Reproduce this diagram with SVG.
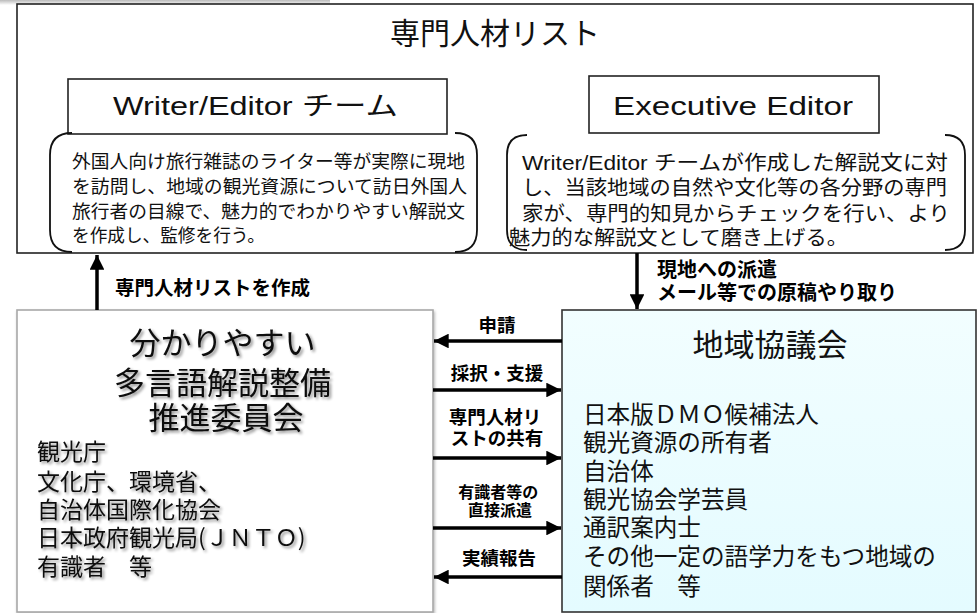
<svg xmlns="http://www.w3.org/2000/svg" width="978" height="613" viewBox="0 0 978 613">
<style>
  .jp { font-family: "Noto Sans CJK JP", "Noto Sans", sans-serif; fill: #111; }
  .lat { font-family: "Liberation Sans", "Noto Sans CJK JP", sans-serif; fill: #111; }
  .lbl { font-family: "Noto Sans CJK JP", sans-serif; font-weight: bold; fill: #000; }
  .box { fill: #fff; stroke: #222; stroke-width: 1.6; }
  .brk { fill: none; stroke: #111; stroke-width: 1.8; }
  .ln { stroke: #000; stroke-width: 3.5; fill: none; }
</style>
<defs>
  <linearGradient id="topShade" x1="0" y1="0" x2="0" y2="1">
    <stop offset="0" stop-color="#bbb"/>
    <stop offset="1" stop-color="#fff"/>
  </linearGradient>
  <linearGradient id="cyan" x1="0" y1="0" x2="0" y2="1">
    <stop offset="0" stop-color="#f2feff"/>
    <stop offset="1" stop-color="#e4fbff"/>
  </linearGradient>
  <filter id="tshadow" x="-10%" y="-20%" width="120%" height="150%">
    <feGaussianBlur in="SourceAlpha" stdDeviation="1.6"/>
    <feOffset dx="1.5" dy="2" result="b"/>
    <feComponentTransfer><feFuncA type="linear" slope="0.45"/></feComponentTransfer>
    <feMerge><feMergeNode/><feMergeNode in="SourceGraphic"/></feMerge>
  </filter>
  <filter id="bshadow" x="-5%" y="-5%" width="110%" height="110%">
    <feGaussianBlur in="SourceAlpha" stdDeviation="1.5"/>
    <feOffset dx="1" dy="1.5"/>
    <feComponentTransfer><feFuncA type="linear" slope="0.3"/></feComponentTransfer>
    <feMerge><feMergeNode/><feMergeNode in="SourceGraphic"/></feMerge>
  </filter>
  <marker id="ah" viewBox="0 0 10 10" refX="10" refY="5" markerWidth="4.2" markerHeight="4.2" orient="auto" markerUnits="strokeWidth">
    <path d="M0,0 L10,5 L0,10 z" fill="#000"/>
  </marker>
</defs>

<rect x="0" y="0" width="330" height="5" fill="url(#topShade)"/>

<g id="talent-list">
  <rect class="box" x="17" y="4" width="956" height="249"/>
  <text class="jp" x="495" y="44" font-size="30" text-anchor="middle">専門人材リスト</text>
</g>

<g id="writer-editor">
  <rect class="box" x="68" y="79" width="379" height="55"/>
  <text class="lat" x="113" y="115" font-size="26" textLength="285" lengthAdjust="spacingAndGlyphs">Writer/Editor チーム</text>
</g>

<g id="executive-editor">
  <rect class="box" x="589" y="76" width="290" height="57"/>
  <text class="lat" x="613" y="115" font-size="26" textLength="240" lengthAdjust="spacingAndGlyphs">Executive Editor</text>
</g>

<g id="writer-desc">
  <path class="brk" d="M72,133 Q50,133 50,155 L50,230 Q50,252 72,252"/>
  <path class="brk" d="M455,133 Q477,133 477,155 L477,230 Q477,252 455,252"/>
  <text class="jp" font-size="18.7">
    <tspan x="72" y="168" textLength="393" lengthAdjust="spacingAndGlyphs">外国人向け旅行雑誌のライター等が実際に現地</tspan>
    <tspan x="72" y="193" textLength="395" lengthAdjust="spacingAndGlyphs">を訪問し、地域の観光資源について訪日外国人</tspan>
    <tspan x="72" y="218" textLength="393" lengthAdjust="spacingAndGlyphs">旅行者の目線で、魅力的でわかりやすい解説文</tspan>
    <tspan x="72" y="242" textLength="193" lengthAdjust="spacingAndGlyphs">を作成し、監修を行う。</tspan>
  </text>
</g>

<g id="exec-desc">
  <path class="brk" d="M527,135 Q507,135 507,155 L507,230 Q507,250 527,250"/>
  <path class="brk" d="M945,135 Q965,135 965,155 L965,230 Q965,250 945,250"/>
  <text class="lat" font-size="20">
    <tspan x="522" y="170" textLength="426" lengthAdjust="spacingAndGlyphs">Writer/Editor チームが作成した解説文に対</tspan>
    <tspan x="522" y="195" textLength="425" lengthAdjust="spacingAndGlyphs">し、当該地域の自然や文化等の各分野の専門</tspan>
    <tspan x="522" y="221" textLength="428" lengthAdjust="spacingAndGlyphs">家が、専門的知見からチェックを行い、より</tspan>
    <tspan x="509" y="245" textLength="339" lengthAdjust="spacingAndGlyphs">魅力的な解説文として磨き上げる。</tspan>
  </text>
</g>

<g id="committee">
  <rect x="17" y="310" width="416" height="302" fill="#fff" stroke="#a8a8a8" stroke-width="1.6" filter="url(#bshadow)"/>
  <g class="jp" filter="url(#tshadow)">
    <text font-size="31" text-anchor="middle">
      <tspan x="226" y="354">分かりやすい</tspan>
      <tspan x="226" y="394">多言語解説整備</tspan>
      <tspan x="226" y="429">推進委員会</tspan>
    </text>
    <text font-size="23">
      <tspan x="37" y="460">観光庁</tspan>
      <tspan x="37" y="490">文化庁、環境省、</tspan>
      <tspan x="37" y="518">自治体国際化協会</tspan>
      <tspan x="37" y="546">日本政府観光局(ＪＮＴＯ)</tspan>
      <tspan x="37" y="575">有識者　等</tspan>
    </text>
  </g>
</g>

<g id="regional-council">
  <rect x="562" y="310" width="414" height="302" fill="url(#cyan)" stroke="#333" stroke-width="1.6"/>
  <text class="jp" x="770" y="356" font-size="31" text-anchor="middle">地域協議会</text>
  <text class="jp" font-size="23.6">
    <tspan x="583" y="423">日本版ＤＭＯ候補法人</tspan>
    <tspan x="583" y="451">観光資源の所有者</tspan>
    <tspan x="583" y="480">自治体</tspan>
    <tspan x="583" y="508">観光協会学芸員</tspan>
    <tspan x="583" y="536">通訳案内士</tspan>
    <tspan x="583" y="565">その他一定の語学力をもつ地域の</tspan>
    <tspan x="583" y="595">関係者　等</tspan>
  </text>
</g>

<g id="connectors">
  <line class="ln" x1="97" y1="310" x2="97" y2="255" marker-end="url(#ah)"/>
  <text class="lbl" x="115" y="295" font-size="19.5">専門人材リストを作成</text>

  <line class="ln" x1="637" y1="253" x2="637" y2="309" marker-end="url(#ah)"/>
  <text class="lbl" font-size="20">
    <tspan x="657" y="277">現地への派遣</tspan>
    <tspan x="657" y="300">メール等での原稿やり取り</tspan>
  </text>

  <line class="ln" x1="562" y1="341" x2="434" y2="341" marker-end="url(#ah)"/>
  <text class="lbl" x="497" y="332" font-size="18.5" text-anchor="middle">申請</text>

  <line class="ln" x1="433" y1="390" x2="561" y2="390" marker-end="url(#ah)"/>
  <text class="lbl" x="497" y="380" font-size="18.5" text-anchor="middle">採択・支援</text>

  <line class="ln" x1="433" y1="458" x2="561" y2="458" marker-end="url(#ah)"/>
  <text class="lbl" font-size="18.5" text-anchor="middle">
    <tspan x="497" y="424">専門人材リ</tspan>
    <tspan x="497" y="445">ストの共有</tspan>
  </text>

  <line class="ln" x1="433" y1="528" x2="561" y2="528" marker-end="url(#ah)"/>
  <text class="lbl" font-size="16" text-anchor="middle">
    <tspan x="500" y="498">有識者等の</tspan>
    <tspan x="500" y="516">直接派遣</tspan>
  </text>

  <line class="ln" x1="562" y1="577" x2="434" y2="577" marker-end="url(#ah)"/>
  <text class="lbl" x="499" y="565" font-size="18.5" text-anchor="middle">実績報告</text>
</g>
</svg>
